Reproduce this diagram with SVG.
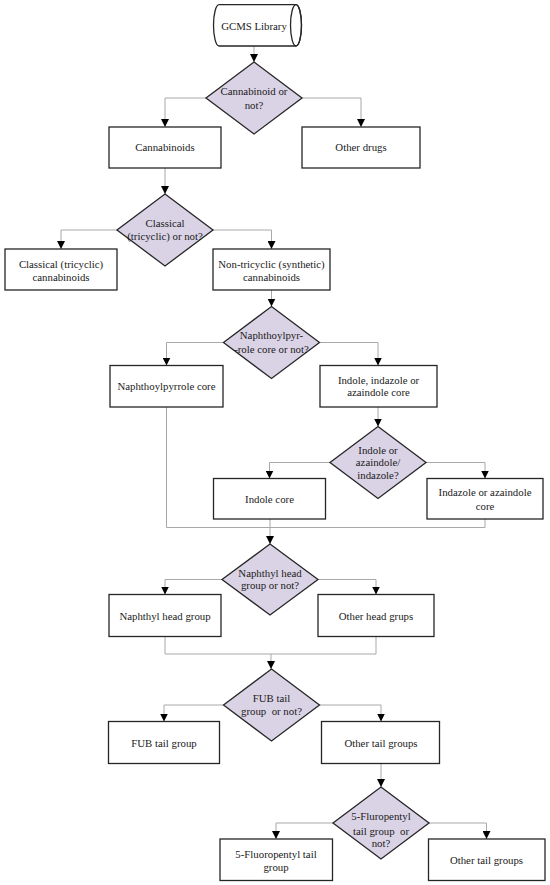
<svg xmlns="http://www.w3.org/2000/svg" width="550" height="885" viewBox="0 0 550 885">
<style>
.box{fill:#fff;stroke:#262626;stroke-width:1.3}
.dia{fill:#dad3e6;stroke:#262626;stroke-width:1.3}
.cyl{fill:#fff;stroke:#262626;stroke-width:1.3}
.t{font-family:"Liberation Serif","Times New Roman",serif;font-size:10.8px;fill:#1a1a1a;text-anchor:middle;white-space:pre}
.c{fill:none;stroke:#a8a8a8;stroke-width:1}
.ca{fill:none;stroke:#a8a8a8;stroke-width:1;marker-end:url(#ah)}
</style>
<defs>
<marker id="ah" markerUnits="userSpaceOnUse" markerWidth="8" markerHeight="8" refX="7" refY="3.5" orient="auto" viewBox="0 0 7 7">
<path d="M0,0 L7,3.5 L0,7 z" fill="#000"/>
</marker>
</defs>
<rect width="550" height="885" fill="#fff"/>
<g id="connectors">
<path class="ca" d="M254,46 V62"/>
<path class="ca" d="M206,98 H165 V127"/>
<path class="ca" d="M302,98 H361 V127"/>
<path class="ca" d="M165,168 V194"/>
<path class="ca" d="M117,230 H61 V249"/>
<path class="ca" d="M213,230 H271.5 V249"/>
<path class="ca" d="M271.5,290 V306.5"/>
<path class="ca" d="M223.5,342.5 H166.5 V365.5"/>
<path class="ca" d="M319.5,342.5 H378 V365.5"/>
<path class="ca" d="M378,407 V426.5"/>
<path class="ca" d="M330,462.5 H269.5 V478.5"/>
<path class="ca" d="M426,462.5 H485 V478.5"/>
<path class="c" d="M166.5,407 V527.5 H485 V519"/>
<path class="ca" d="M270,519 V544"/>
<path class="ca" d="M222,579.5 H165 V594.5"/>
<path class="ca" d="M318,579.5 H376 V594.5"/>
<path class="c" d="M165,636.5 V654 H376 V636.5"/>
<path class="ca" d="M271,654 V669"/>
<path class="ca" d="M223.5,705 H164 V721.5"/>
<path class="ca" d="M319.5,705 H381 V721.5"/>
<path class="ca" d="M381,763.5 V787"/>
<path class="ca" d="M333,823 H276 V839"/>
<path class="ca" d="M429,823 H486.5 V839"/>
</g>
<g id="gcms">
<path class="cyl" d="M219,4.7 H296 A5.5,20.65 0 0 1 296,46 H219 A5.5,20.65 0 0 1 219,4.7 Z"/>
<ellipse cx="296" cy="25.35" rx="5.5" ry="20.65" fill="none" stroke="#262626" stroke-width="1.3"/>
<text class="t" x="254" y="29.6">GCMS Library</text>
</g>
<g id="d1">
<polygon class="dia" points="254,62 302,98 254,134 206,98"/>
<text class="t" x="254" y="95.3">Cannabinoid or</text>
<text class="t" x="254" y="108.6">not?</text>
</g>
<g id="cannabinoids">
<rect class="box" x="109" y="127" width="112" height="41"/>
<text class="t" x="165" y="150.7">Cannabinoids</text>
</g>
<g id="otherdrugs">
<rect class="box" x="302" y="127" width="118" height="41"/>
<text class="t" x="361" y="150.7">Other drugs</text>
</g>
<g id="d2">
<polygon class="dia" points="165,194 213,230 165,266 117,230"/>
<text class="t" x="165" y="227">Classical</text>
<text class="t" x="165" y="240">(tricyclic) or not?</text>
</g>
<g id="classical">
<rect class="box" x="5" y="249" width="112" height="41"/>
<text class="t" x="61" y="267.7">Classical (tricyclic)</text>
<text class="t" x="61" y="281">cannabinoids</text>
</g>
<g id="nontricyclic">
<rect class="box" x="213" y="249" width="117" height="41"/>
<text class="t" x="271.5" y="267.7">Non-tricyclic (synthetic)</text>
<text class="t" x="271.5" y="281">cannabinoids</text>
</g>
<g id="d3">
<polygon class="dia" points="271.5,306.5 319.5,342.5 271.5,378.5 223.5,342.5"/>
<text class="t" x="271.5" y="339.2">Naphthoylpyr-</text>
<text class="t" x="271.5" y="352.5">-role core or not?</text>
</g>
<g id="naphthoylpyrrole">
<rect class="box" x="110" y="365.5" width="113" height="41.5"/>
<text class="t" x="166.5" y="390">Naphthoylpyrrole core</text>
</g>
<g id="indoleindazole">
<rect class="box" x="320" y="365.5" width="117" height="41.5"/>
<text class="t" x="378.5" y="383.5">Indole, indazole or</text>
<text class="t" x="378.5" y="396.2">azaindole core</text>
</g>
<g id="d4">
<polygon class="dia" points="378,426.5 426,462.5 378,498.5 330,462.5"/>
<text class="t" x="378" y="453.5">Indole or</text>
<text class="t" x="378" y="466">azaindole/</text>
<text class="t" x="378" y="479.2">indazole?</text>
</g>
<g id="indolecore">
<rect class="box" x="213.5" y="478.5" width="112" height="40.5"/>
<text class="t" x="269.5" y="503">Indole core</text>
</g>
<g id="indazole">
<rect class="box" x="427" y="478.5" width="116" height="40.5"/>
<text class="t" x="485" y="496.2">Indazole or azaindole</text>
<text class="t" x="485" y="509.5">core</text>
</g>
<g id="d5">
<polygon class="dia" points="270,544 318,579.5 270,615 222,579.5"/>
<text class="t" x="270" y="577">Naphthyl head</text>
<text class="t" x="270" y="589.4">group or not?</text>
</g>
<g id="naphthylhead">
<rect class="box" x="109" y="594.5" width="112" height="42"/>
<text class="t" x="165" y="619.7">Naphthyl head group</text>
</g>
<g id="otherhead">
<rect class="box" x="318" y="594.5" width="116" height="42"/>
<text class="t" x="376" y="619.7">Other head grups</text>
</g>
<g id="d6">
<polygon class="dia" points="271.5,669 319.5,705 271.5,741 223.5,705"/>
<text class="t" x="271.5" y="702">FUB tail</text>
<text class="t" x="271.5" y="715.4">group  or not?</text>
</g>
<g id="fub">
<rect class="box" x="108.5" y="721.5" width="111" height="42"/>
<text class="t" x="164" y="747">FUB tail group</text>
</g>
<g id="othertail1">
<rect class="box" x="321.5" y="721.5" width="118" height="42"/>
<text class="t" x="381" y="747">Other tail groups</text>
</g>
<g id="d7">
<polygon class="dia" points="381,787 429,823 381,859 333,823"/>
<text class="t" x="381" y="820.3">5-Fluropentyl</text>
<text class="t" x="381" y="834.5">tail group  or</text>
<text class="t" x="381" y="847">not?</text>
</g>
<g id="fluoropentyl">
<rect class="box" x="220" y="839" width="112.5" height="41.5"/>
<text class="t" x="276" y="858">5-Fluoropentyl tail</text>
<text class="t" x="276" y="871">group</text>
</g>
<g id="othertail2">
<rect class="box" x="428.5" y="839" width="116.5" height="41.5"/>
<text class="t" x="486.5" y="863.7">Other tail groups</text>
</g>
</svg>
